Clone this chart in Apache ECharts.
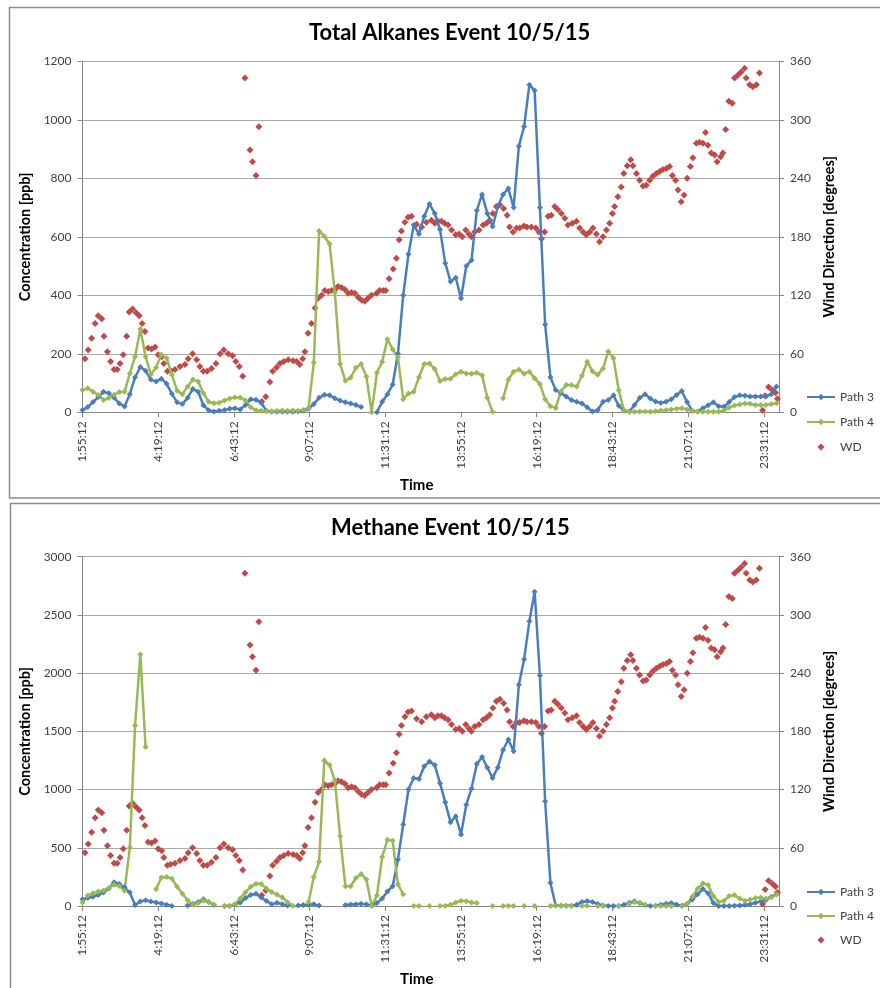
<!DOCTYPE html>
<html>
<head>
<meta charset="utf-8">
<script src="https://cdn.jsdelivr.net/npm/echarts@6/dist/echarts.min.js"></script>
<style>
html,body{margin:0;padding:0;background:#fff;overflow:hidden}
#c{width:880px;height:988px}
</style>
</head>
<body>
<div id="c"></div>
<script>
// ---- time axis ----
const START_HOUR = 1.92;          // 1:55:12, first sample / first tick
const STEP_HOURS = 1 / 6;         // concentration samples every 10 minutes
const TICK_HOURS = 2.4;           // 2 h 24 min between time ticks
const SPAN_HOURS = 22.08;         // 1:55:12 -> 24:00:00
const timeTicks = ['1:55:12','4:19:12','6:43:12','9:07:12','11:31:12','13:55:12','16:19:12','18:43:12','21:07:12','23:31:12'];

// ---- Total Alkanes [ppb] (10-min samples from 1:55:12) ----
const alkPath3 = [
  8,18,35,52,70,65,50,30,20,62,
  120,155,142,112,105,115,98,63,34,28,
  50,80,70,24,7,3,5,8,12,14,
  10,25,45,43,32,5,2,2,2,2,
  2,3,5,12,28,50,60,58,48,40,
  34,30,25,18,null,null,0,36,62,95,
  200,400,540,640,610,670,712,680,625,510,
  447,460,390,500,520,690,745,680,635,703,
  745,765,700,910,977,1120,1100,700,300,120,
  76,66,54,42,36,30,17,3,8,36,
  42,58,22,6,3,25,50,62,47,37,
  32,36,45,59,73,35,5,3,14,24,
  34,21,19,35,52,58,57,54,54,54,
  54,62,88
];
const alkPath4 = [
  76,82,70,59,42,49,60,69,70,133,
  190,285,190,130,153,198,185,128,74,62,
  88,112,105,65,36,31,33,40,47,51,
  51,40,17,7,5,4,4,5,6,5,
  6,5,8,15,170,620,602,575,410,165,
  108,118,152,165,122,0,135,173,250,215,
  188,45,64,70,120,165,167,148,107,114,
  115,130,139,133,132,135,127,50,2,null,
  48,112,139,146,132,139,116,97,45,21,
  15,72,93,93,88,125,173,140,128,150,
  208,185,75,6,2,2,3,3,2,4,
  6,8,10,12,14,10,5,2,2,2,
  2,2,6,16,23,27,30,29,25,25,
  25,28,31
];

// ---- Methane [ppb] (10-min samples from 1:55:12) ----
const metPath3 = [
  57,68,80,95,117,150,205,188,160,115,
  8,38,50,39,31,22,11,0,null,null,
  5,18,35,57,34,8,null,0,0,12,
  30,68,95,105,72,43,14,28,16,5,
  null,5,9,10,14,5,null,null,null,null,
  8,12,16,20,14,3,25,65,125,170,
  400,700,1000,1100,1090,1200,1240,1210,1055,890,
  720,770,615,870,1010,1220,1280,1190,1100,1190,
  1340,1430,1330,1900,2120,2445,2700,1980,900,200,
  5,3,2,3,10,35,43,35,18,5,
  0,0,0,10,28,40,25,8,0,3,
  10,20,25,12,2,20,55,100,145,110,
  25,0,0,0,2,4,10,15,28,40,
  52,80,100
];
const metPath4 = [
  29,90,110,125,133,155,182,172,132,500,
  1550,2160,1366,null,143,245,250,235,165,105,
  50,10,25,47,35,12,null,0,0,15,
  65,119,165,192,188,150,120,98,75,33,
  2,null,null,35,250,380,1250,1210,1080,600,
  170,170,240,275,228,0,90,420,570,560,
  186,100,null,0,0,null,0,null,0,0,
  10,30,45,40,30,25,null,null,0,null,
  0,0,0,null,0,null,0,null,null,0,
  5,5,3,0,null,0,2,null,0,0,
  null,null,0,null,20,35,30,10,null,0,
  0,0,0,null,0,20,80,150,195,180,
  85,35,45,85,95,65,45,55,68,72,
  65,75,100
];

// ---- Wind direction [degrees], same record in both panels ----
const wdHours = [
  2.00,2.10,2.21,2.32,2.42,2.53,2.60,2.71,2.81,2.92,
  3.02,3.11,3.21,3.32,3.40,3.51,3.62,3.72,3.81,3.90,
  4.00,4.11,4.22,4.32,4.43,4.50,4.61,4.71,4.85,5.01,
  5.17,5.27,5.41,5.54,5.64,5.75,5.87,6.01,6.15,6.28,
  6.40,6.54,6.68,6.78,6.89,7.00,7.07,7.23,7.31,7.42,
  7.51,7.60,7.73,7.86,7.95,8.07,8.18,8.30,8.44,8.60,
  8.71,8.81,8.90,8.97,9.07,9.18,9.29,9.39,9.50,9.60,
  9.71,9.81,9.92,10.02,10.13,10.24,10.34,10.45,10.55,10.66,
  10.77,10.87,10.97,11.08,11.24,11.34,11.45,11.53,11.64,11.77,
  11.87,11.96,12.03,12.14,12.24,12.35,12.51,12.67,12.82,12.98,
  13.09,13.19,13.30,13.40,13.51,13.62,13.75,13.86,13.96,14.07,
  14.17,14.25,14.35,14.49,14.62,14.73,14.83,14.93,15.04,15.15,
  15.27,15.38,15.46,15.57,15.68,15.78,15.91,16.01,16.15,16.29,
  16.39,16.47,16.57,16.68,16.78,16.89,16.99,17.10,17.21,17.31,
  17.45,17.58,17.68,17.79,17.89,18.00,18.10,18.21,18.31,18.42,
  18.53,18.63,18.72,18.79,18.89,19.00,19.08,19.19,19.30,19.37,
  19.48,19.58,19.69,19.79,19.90,20.00,20.11,20.22,20.32,20.43,
  20.53,20.62,20.72,20.80,20.90,20.99,21.09,21.19,21.27,21.38,
  21.48,21.59,21.67,21.75,21.85,21.96,22.04,22.15,22.22,22.31,
  22.41,22.52,22.59,22.70,22.80,22.91,22.96,23.07,23.17,23.28,
  23.38,23.48,23.56,23.67,23.79,23.89,23.95
];
const wdDeg = [
  55,64,76,91,99,96,78,62,52,44,
  44,50,59,78,103,106,102,99,91,83,
  66,65,67,59,57,50,42,43,44,47,
  49,55,60,54,47,42,42,45,50,60,
  64,60,58,52,47,37,343,269,257,243,
  293,11,16,31,42,46,50,52,54,53,
  52,49,55,62,81,91,107,117,120,125,
  124,125,126,129,128,126,122,123,122,118,
  115,114,117,120,122,125,125,125,137,147,
  158,177,186,195,200,201,193,190,195,197,
  194,196,196,194,192,187,182,183,180,187,
  183,180,185,187,192,194,197,204,211,213,
  209,202,190,185,189,189,191,190,190,189,
  185,178,185,201,202,211,208,204,199,192,
  194,196,189,185,182,185,189,183,175,180,
  187,194,204,211,221,231,245,253,259,253,
  245,238,232,233,238,242,245,247,249,250,
  252,243,238,228,216,223,240,252,261,276,
  277,276,287,274,266,264,257,262,266,290,
  319,317,343,346,349,353,343,336,334,336,
  348,2,17,26,23,20,14
];

// ---- build library data ----
const sampled = arr => arr.map((v, i) => [i * STEP_HOURS, v === null ? '-' : v]);
const wdData = wdHours.map((h, i) => [h - START_HOUR, wdDeg[i]]);

const C3 = '#4A7EBB', C4 = '#98B954', CWD = '#BE4B48';
const FONT = 'Lato';
const AXIS_GRAY = '#868686';
// diamond centred in a 28x8 legend box (leading moves fix the icon's bounding box)
const WD_ICON = 'path://M0,0M28,8M14,0.5L17.5,4L14,7.5L10.5,4Z';

function timeLabel(v) {
  const k = Math.round(v / TICK_HOURS);
  if (Math.abs(v / TICK_HOURS - k) > 0.01) return '';
  return timeTicks[k] || '';
}

function xAxis(gridIndex, gap) {
  return {
    type: 'value', gridIndex, min: 0, max: SPAN_HOURS, interval: TICK_HOURS,
    axisLine: { show: true, lineStyle: { color: AXIS_GRAY, width: 1 } },
    axisTick: { show: true, length: 5, lineStyle: { color: AXIS_GRAY } },
    splitLine: { show: false },
    axisLabel: { rotate: 90, margin: 9, fontFamily: FONT, fontSize: 12, color: '#404040',
                 showMaxLabel: false, formatter: timeLabel },
    name: 'Time', nameLocation: 'middle', nameGap: gap,
    nameTextStyle: { fontFamily: FONT, fontWeight: 'bold', fontSize: 15, color: '#000', padding: [0, 28, 0, 0] }
  };
}
function yLeft(gridIndex, max, interval) {
  return {
    type: 'value', gridIndex, position: 'left', min: 0, max, interval,
    axisLine: { show: true, lineStyle: { color: AXIS_GRAY } },
    axisTick: { show: true, length: 5, lineStyle: { color: AXIS_GRAY } },
    splitLine: { show: true, lineStyle: { color: '#aaaaaa', width: 1.2 } },
    axisLabel: { margin: 11, fontFamily: FONT, fontSize: 12, color: '#404040', formatter: v => String(v) },
    name: 'Concentration [ppb]', nameLocation: 'middle', nameGap: 47, nameRotate: 90,
    nameTextStyle: { fontFamily: FONT, fontWeight: 'bold', fontSize: 14.5, color: '#000' }
  };
}
function yRight(gridIndex) {
  return {
    type: 'value', gridIndex, position: 'right', min: 0, max: 360, interval: 60,
    axisLine: { show: true, lineStyle: { color: AXIS_GRAY } },
    axisTick: { show: true, length: 5, lineStyle: { color: AXIS_GRAY } },
    splitLine: { show: false },
    axisLabel: { margin: 11, fontFamily: FONT, fontSize: 12, color: '#404040', formatter: v => String(v) },
    name: 'Wind Direction [degrees]', nameLocation: 'middle', nameGap: 40, nameRotate: 90,
    nameTextStyle: { fontFamily: FONT, fontWeight: 'bold', fontSize: 14.5, color: '#000' }
  };
}
function lineSeries(name, color, data, xi, yi) {
  return {
    type: 'line', name, data, xAxisIndex: xi, yAxisIndex: yi,
    symbol: 'diamond', symbolSize: 6, showSymbol: true, connectNulls: false,
    lineStyle: { color, width: 2.5 }, itemStyle: { color },
    emphasis: { disabled: true }, animation: false
  };
}
function wdSeries(xi, yi) {
  return {
    type: 'scatter', name: 'WD', data: wdData, xAxisIndex: xi, yAxisIndex: yi,
    symbol: 'diamond', symbolSize: 7, itemStyle: { color: CWD, opacity: 1 },
    emphasis: { disabled: true }, animation: false
  };
}
function legend(top, gap) {
  return {
    orient: 'vertical', left: 801, top, itemWidth: 28, itemHeight: 8, itemGap: gap,
    data: ['Path 3', 'Path 4', { name: 'WD', icon: WD_ICON }],
    textStyle: { fontFamily: FONT, fontSize: 12, color: '#404040' }
  };
}

const chart = echarts.init(document.getElementById('c'), null, { renderer: 'canvas' });
chart.setOption({
  animation: false,
  backgroundColor: '#fff',
  title: [
    { text: 'Total Alkanes Event 10/5/15', left: 309, top: 22, padding: 0,
      textStyle: { fontFamily: FONT, fontWeight: 'bold', fontSize: 22, color: '#000' } },
    { text: 'Methane Event 10/5/15', left: 331, top: 517, padding: 0,
      textStyle: { fontFamily: FONT, fontWeight: 'bold', fontSize: 22, color: '#000' } }
  ],
  legend: [legend(386, 13), legend(881, 12)],
  grid: [
    { left: 82.5, top: 61.3, width: 696.5, height: 351, containLabel: false },
    { left: 82.5, top: 556.7, width: 696.5, height: 350, containLabel: false }
  ],
  xAxis: [xAxis(0, 65), xAxis(1, 66)],
  yAxis: [yLeft(0, 1200, 200), yRight(0), yLeft(1, 3000, 500), yRight(1)],
  series: [
    lineSeries('Path 3', C3, sampled(alkPath3), 0, 0),
    lineSeries('Path 4', C4, sampled(alkPath4), 0, 0),
    wdSeries(0, 1),
    lineSeries('Path 3', C3, sampled(metPath3), 1, 2),
    lineSeries('Path 4', C4, sampled(metPath4), 1, 2),
    wdSeries(1, 3)
  ],
  graphic: [
    { type: 'rect', silent: true, z: 100, shape: { x: 9.5, y: 7.5, width: 880, height: 490.5 },
      style: { fill: 'none', stroke: '#8c8c8c', lineWidth: 1.5 } },
    { type: 'rect', silent: true, z: 100, shape: { x: 10.5, y: 503.5, width: 880, height: 500 },
      style: { fill: 'none', stroke: '#8c8c8c', lineWidth: 1.5 } }
  ]
});
</script>
</body>
</html>
